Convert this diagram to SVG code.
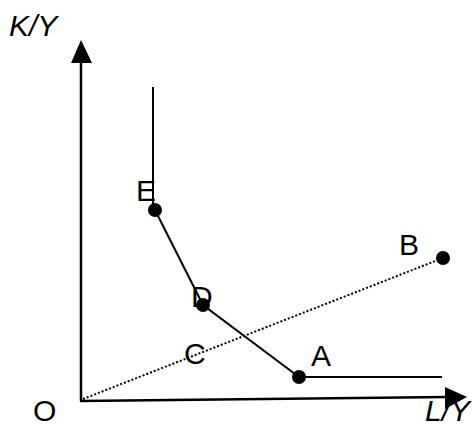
<svg xmlns="http://www.w3.org/2000/svg" width="472" height="426" viewBox="0 0 472 426">
<style>
.lbl{font-family:"Liberation Sans",Arial,sans-serif;font-size:30px;fill:#000}
.it{font-style:italic}
.ax{stroke:#000;stroke-width:2.5;fill:none}
.ln{stroke:#000;stroke-width:2;fill:none}
.dot{stroke:#000;stroke-width:2;stroke-dasharray:2 2;fill:none}
.pt{fill:#000}
</style>
<rect width="472" height="426" fill="#fff"/>
<g id="connectors">
<line class="ax" x1="81" y1="401" x2="81" y2="60"/>
<polygon points="81,40 71,63 92,63" fill="#000"/>
<line class="ax" x1="80" y1="401" x2="448" y2="397"/>
<polygon points="467,397 445,387 445,409" fill="#000"/>
<line class="dot" x1="83" y1="399" x2="443" y2="258"/>
<polyline class="ln" points="153,87 153,205 155,210 203,305 299,377 442,377"/>
</g>
<g id="E"><circle class="pt" cx="155" cy="210" r="7"/><text class="lbl" x="136" y="201">E</text></g>
<g id="D"><circle class="pt" cx="203" cy="305" r="7"/><text class="lbl" x="191" y="307">D</text></g>
<g id="C"><text class="lbl" x="184" y="364">C</text></g>
<g id="A"><circle class="pt" cx="299" cy="377" r="7"/><text class="lbl" x="311" y="366">A</text></g>
<g id="B"><circle class="pt" cx="443" cy="258" r="7"/><text class="lbl" x="399" y="255">B</text></g>
<g id="O"><text class="lbl" x="33" y="421">O</text></g>
<g id="KY"><text class="lbl it" x="9" y="36">K/Y</text></g>
<g id="LY"><text class="lbl it" x="425" y="421">L/Y</text></g>
</svg>
